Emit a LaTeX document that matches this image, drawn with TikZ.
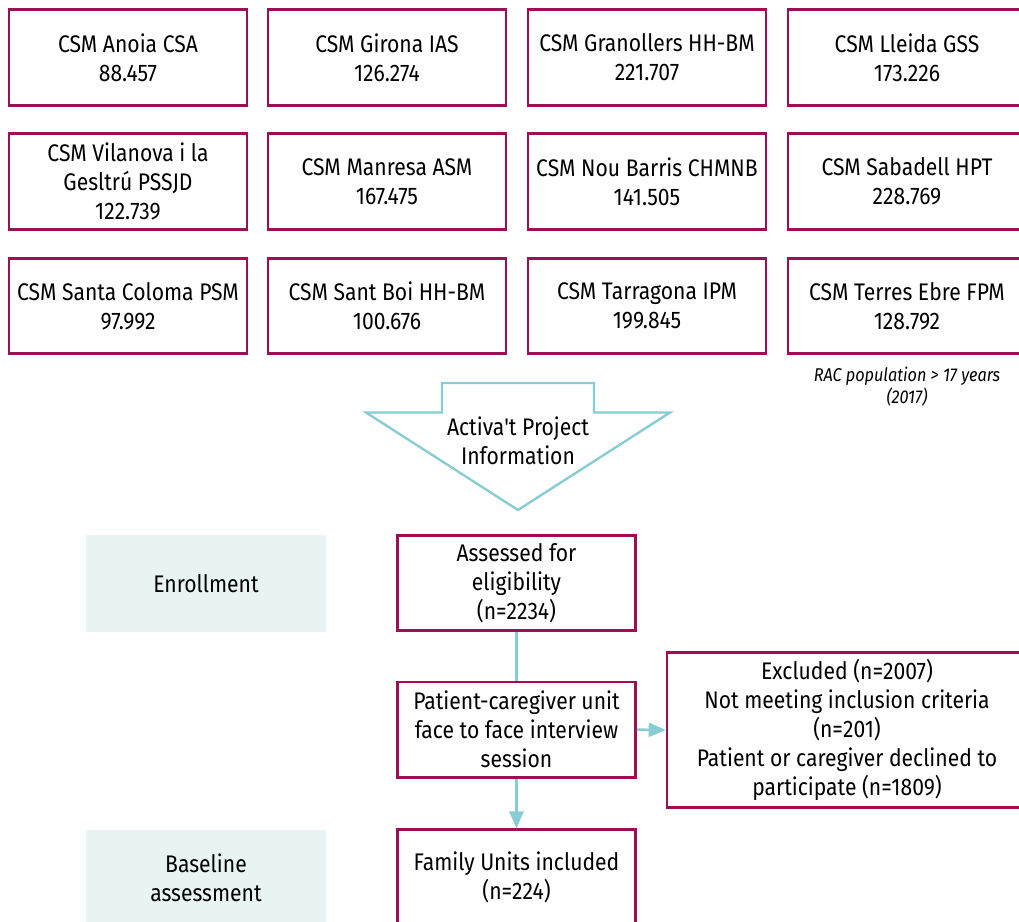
\documentclass[tikz,border=0pt]{standalone}
\usepackage{fontspec}
\setmainfont{Fira Sans}[FakeStretch=0.88]
\newfontfamily\fsplain{Fira Sans}[FakeStretch=0.88]
\usetikzlibrary{arrows.meta}
\definecolor{mag}{HTML}{9C0F55}
\definecolor{cy}{HTML}{88CDD3}
\definecolor{lb}{HTML}{E8F4F4}
\begin{document}
\begin{tikzpicture}[x=1pt,y=-1pt,
  txt/.style={font=\fontsize{24}{29}\selectfont, align=center, inner sep=0pt},
  box/.style={txt, draw=mag, line width=2.6pt, minimum width=238pt, minimum height=95.5pt},
  phase/.style={txt, fill=lb, minimum width=240pt, minimum height=97pt},
  link/.style={draw=cy, line width=2.6pt},
  arr/.style={link, -{Triangle[length=17pt,width=14pt]}}]
\useasboundingbox (0,0) rectangle (1019,921);
\clip (0,0) rectangle (1019,921);
% top grid
\node[box] (b1) at (128,57.5) {CSM Anoia CSA\\88.457};
\node[box] (b2) at (387,57.5) {CSM Girona IAS\\126.274};
\node[box] (b3) at (647,57.5) {CSM Granollers HH-BM\\221.707};
\node[box] (b4) at (907,57.5) {CSM Lleida GSS\\173.226};
\node[box] (b5) at (128,181.5) {CSM Vilanova i la\\Gesltrú PSSJD\\122.739};
\node[box] (b6) at (387,181.5) {CSM Manresa ASM\\167.475};
\node[box] (b7) at (647,181.5) {CSM Nou Barris CHMNB\\141.505};
\node[box] (b8) at (907,181.5) {CSM Sabadell HPT\\228.769};
\node[box] (b9) at (128,306) {CSM Santa Coloma PSM\\97.992};
\node[box] (b10) at (387,306) {CSM Sant Boi HH-BM\\100.676};
\node[box] (b11) at (647,306) {CSM Tarragona IPM\\199.845};
\node[box] (b12) at (907,306) {CSM Terres Ebre FPM\\128.792};
\node[font=\fontsize{18.5}{22}\selectfont\itshape, align=center, inner sep=0pt] (rac) at (907,387) {RAC population > 17 years\\(2017)};
% big down arrow
\draw[draw=cy, line width=2.4pt, line join=miter] (442,383) -- (594,383) -- (594,412.5) -- (670,412.5) -- (518,510) -- (366,412.5) -- (442,412.5) -- cycle;
\node[txt] (info) at (518,441) {Activa{\fsplain '}t Project\\Information};
% phases
\node[phase] (enr) at (206,583.5) {Enrollment};
\node[phase] (base) at (206,878) {Baseline\\assessment};
% flow
\node[box] (ass) at (516.5,583) {Assessed for\\eligibility\\(n=2234)};
\node[box] (pat) at (516.5,729.7) {Patient-caregiver unit\\face to face interview\\session};
\node[box, minimum width=360pt, minimum height=155pt] (exc) at (847,730) {Excluded (n=2007)\\Not meeting inclusion criteria\\(n=201)\\Patient or caregiver declined to\\participate (n=1809)};
\node[box] (fam) at (516.5,877.5) {Family Units included\\(n=224)};
\draw[link] (ass.south) -- (pat.north);
\draw[arr] (pat.east) -- (exc.west);
\draw[arr] (pat.south) -- (fam.north);
\end{tikzpicture}
\end{document}
